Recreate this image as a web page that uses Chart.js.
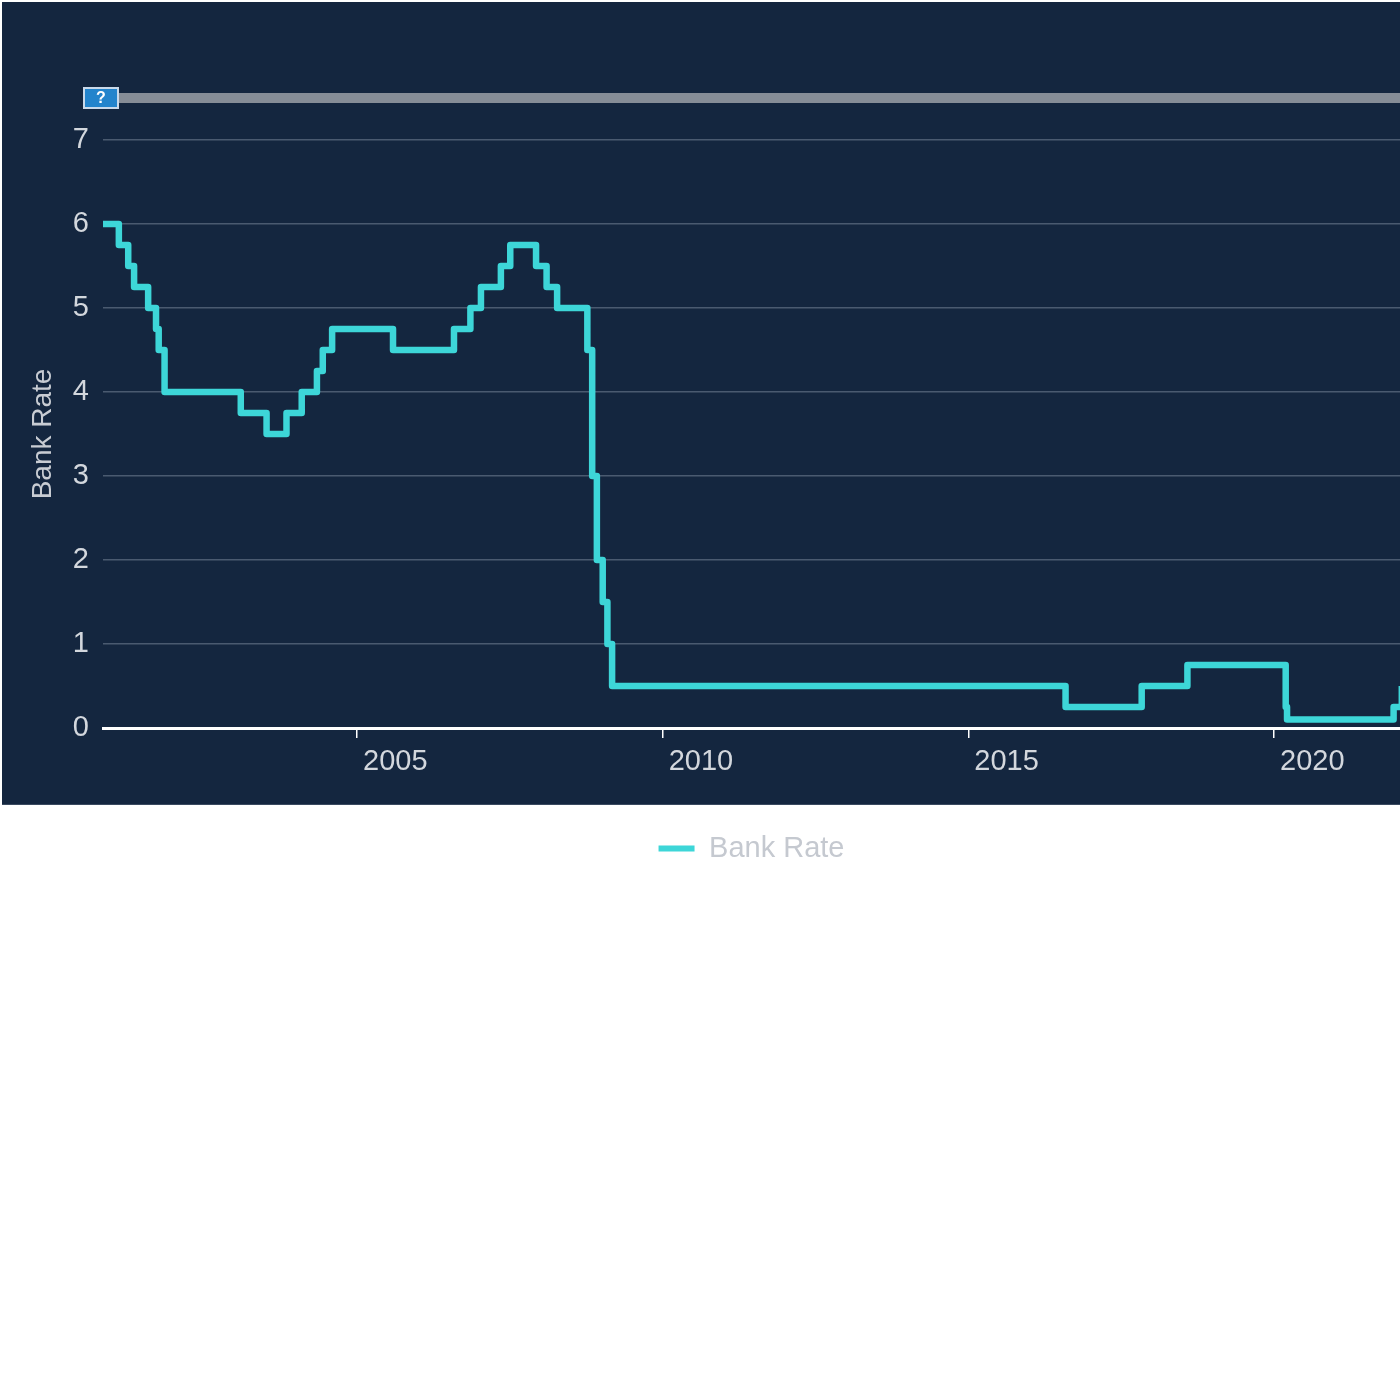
<!DOCTYPE html>
<html>
<head>
<meta charset="utf-8">
<script src="https://cdn.jsdelivr.net/npm/chart.js@4/dist/chart.umd.min.js"></script>
<style>
  body { margin: 0; background: #ffffff; }
  #wrap { position: absolute; left: 0; top: 0; width: 1400px; height: 900px; }
</style>
</head>
<body>
<div id="wrap"><canvas id="mycanvas"></canvas></div>
<script>
// Bank Rate change dates and the new rate set on each date
var rateDates = ['2000-02-10','2001-02-08','2001-04-05','2001-05-10','2001-08-02','2001-09-18','2001-10-04','2001-11-08',
  '2003-02-06','2003-07-10','2003-11-06','2004-02-05','2004-05-06','2004-06-10','2004-08-05','2005-08-04',
  '2006-08-03','2006-11-09','2007-01-11','2007-05-10','2007-07-05','2007-12-06','2008-02-07','2008-04-10',
  '2008-10-08','2008-11-06','2008-12-04','2009-01-08','2009-02-05','2009-03-05','2016-08-04','2017-11-02',
  '2018-08-02','2020-03-11','2020-03-19','2021-12-16','2022-02-03'];
var rateValues = [6.00,5.75,5.50,5.25,5.00,4.75,4.50,4.00,
  3.75,3.50,3.75,4.00,4.25,4.50,4.75,4.50,
  4.75,5.00,5.25,5.50,5.75,5.50,5.25,5.00,
  4.50,3.00,2.00,1.50,1.00,0.50,0.25,0.50,
  0.75,0.25,0.10,0.25,0.50];
var xTicks = [2005, 2010, 2015, 2020];
var yTicks = [0, 1, 2, 3, 4, 5, 6, 7];
var xRange = [2000.845, 2022.061];
var yRange = [0, 7];
var seriesName = 'Bank Rate';

function toYear(s){
	var p = s.split('-');
	var y = +p[0];
	var start = Date.UTC(y, 0, 1), end = Date.UTC(y + 1, 0, 1);
	return y + (Date.UTC(y, +p[1] - 1, +p[2]) - start) / (end - start);
}

var points = [];
for (var i in rateDates) {
	points.push({x: toYear(rateDates[i]), y: rateValues[i]});
}

var cyan = '#3dd6d8';
var font = "'Liberation Sans', Arial, Helvetica, sans-serif";

// dark panel behind the plot, grey band + help icon half a unit above the top tick
var panel = {
	id: 'panel',
	beforeDraw: function(chart){
		var c = chart.ctx;
		c.save();
		c.fillStyle = '#14263f';
		c.fillRect(2, 2, chart.width - 2, 803);
		c.fillStyle = '#3a4a60';
		c.fillRect(2, 804, chart.width - 2, 1);
		c.restore();
	},
	afterDraw: function(chart){
		var c = chart.ctx;
		var a = chart.chartArea;
		var ys = chart.scales.y;
		var top = ys.getPixelForValue(yRange[1] + 0.5);
		c.save();
		c.fillStyle = '#868d97';
		c.fillRect(a.left + 14, top - 5, a.right - a.left - 14, 10);
		// help icon
		var ix = a.left - 20, iy = top - 11;
		c.fillStyle = '#c9d9ea';
		c.fillRect(ix, iy, 36, 22);
		c.fillStyle = '#2384cc';
		c.fillRect(ix + 2, iy + 2, 32, 18);
		c.fillStyle = '#ffffff';
		c.font = "bold 16px " + font;
		c.textAlign = 'center';
		c.textBaseline = 'middle';
		c.fillText('?', ix + 18, iy + 12);
		c.restore();
	}
};

var ctx = document.getElementById('mycanvas');
var chart = new Chart(ctx, {
	type: 'line',
	data: {
		datasets: [{
			label: seriesName,
			data: points,
			borderColor: cyan,
			backgroundColor: cyan,
			borderWidth: 6.5,
			stepped: 'before',
			pointRadius: 0,
			borderJoinStyle: 'round',
			fill: false
		}]
	},
	options: {
		responsive: true,
		maintainAspectRatio: false,
		animation: false,
		layout: { padding: { top: 140, left: 0, right: 0, bottom: 27 } },
		scales: {
			x: {
				type: 'linear',
				min: xRange[0],
				max: xRange[1],
				afterBuildTicks: function(s){ s.ticks = xTicks.map(function(v){ return {value: v}; }); },
				afterFit: function(s){ s.height = 96; },
				border: { display: true, color: '#ffffff', width: 3 },
				grid: { drawOnChartArea: false, drawTicks: true, tickLength: 10, tickColor: '#ffffff', lineWidth: 1.5 },
				ticks: {
					color: '#d3d7dd',
					font: { family: font, size: 29 },
					align: 'start',
					labelOffset: 6,
					padding: 7,
					maxRotation: 0,
					callback: function(v){ return String(v); }
				}
			},
			y: {
				min: yRange[0],
				max: yRange[1],
				afterBuildTicks: function(s){ s.ticks = yTicks.map(function(v){ return {value: v}; }); },
				afterFit: function(s){ s.width = 103; },
				border: { display: false },
				grid: {
					drawTicks: false,
					lineWidth: 1.5,
					color: function(c){ return c.tick && c.tick.value === 0 ? 'rgba(0,0,0,0)' : '#4a5a70'; }
				},
				ticks: {
					color: '#d3d7dd',
					font: { family: font, size: 29 },
					padding: 14
				},
				title: {
					display: true,
					text: seriesName,
					color: '#c8ccd3',
					font: { family: font, size: 28 },
					padding: { top: 26, bottom: 0 }
				}
			}
		},
		plugins: {
			tooltip: { enabled: false },
			legend: {
				position: 'bottom',
				fullSize: false,
				labels: {
					color: '#c5c9d0',
					font: { family: font, size: 29 },
					boxWidth: 36,
					boxHeight: 6,
					generateLabels: function(ch){
						var items = Chart.defaults.plugins.legend.labels.generateLabels(ch);
						items.forEach(function(it){ it.lineWidth = 0; it.fillStyle = cyan; it.strokeStyle = cyan; });
						return items;
					}
				}
			}
		}
	},
	plugins: [panel]
});
</script>
</body>
</html>
